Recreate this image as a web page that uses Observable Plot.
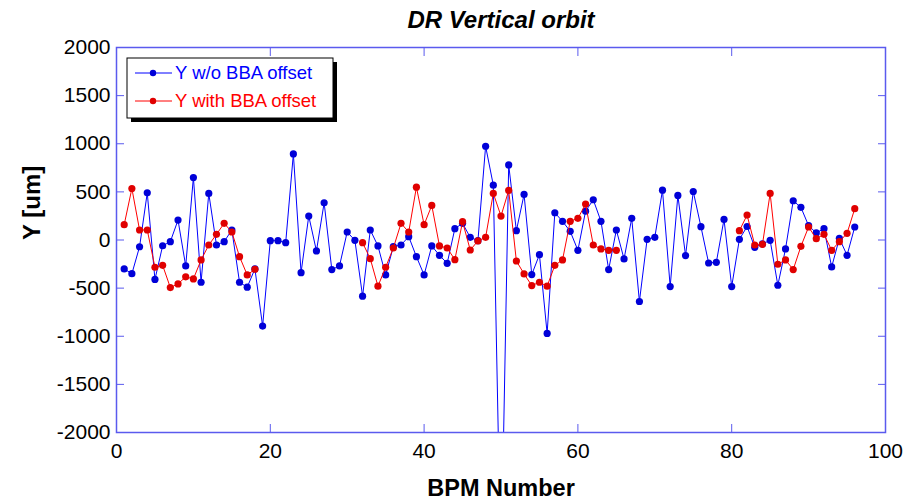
<!DOCTYPE html>
<html><head><meta charset="utf-8">
<script src="https://cdn.jsdelivr.net/npm/d3@7"></script>
<script src="https://cdn.jsdelivr.net/npm/@observablehq/plot@0.6"></script>
<style>
body{margin:0;background:#fff;font-family:"Liberation Sans",Arial,sans-serif}
#chart{position:relative;width:915px;height:500px}
</style>
</head><body><div id="chart"></div>
<script>
// ---- data ----
const bpm = d3.range(1, 97);
const yNoBBA = [
  -300,-350,-70,490,-410,-60,-17,207,-269,649,
  -439,484,-52,-17,104,-439,-490,-300,-894,-7,
  -7,-28,894,-339,249,-114,387,-307,-269,83,
  -3,-584,104,-62,-363,-69,-52,35,-173,-363,
  -62,-159,-242,118,173,28,-7,974,570,-3450,
  780,97,473,-359,-152,-971,283,194,90,-107,
  300,418,194,-307,104,-197,225,-639,7,28,
  518,-484,463,-162,504,138,-239,-232,214,-484,
  7,140,-76,-41,-3,-470,-93,408,339,149,
  73,118,-280,17,-159,135
];
const yWithBBA = [
  159,535,104,104,-283,-263,-494,-456,-383,-404,
  -207,-52,59,173,83,-173,-363,-304,null,null,
  null,null,null,null,null,null,null,null,null,null,
  null,-28,-194,-480,-283,-83,173,83,549,159,
  359,-62,-83,-204,190,-104,-10,28,484,249,
  515,-218,-352,-473,-439,-480,-263,-207,194,225,
  373,-52,-93,-107,-107,null,null,null,null,null,
  null,null,null,null,null,null,null,null,null,null,
  97,259,-52,-45,484,-252,-207,-307,-66,135,
  14,59,-107,-17,69,325
];
const xTicks = [0, 20, 40, 60, 80, 100];
const yTicks = [-2000, -1500, -1000, -500, 0, 500, 1000, 1500, 2000];
const seriesNames = ["Y w/o BBA offset", "Y with BBA offset"];
const titleText = "DR Vertical orbit";
const xLabel = "BPM Number";
const yLabel = "Y [um]";

// ---- styling ----
const axisColor = "#5a5aee";
const blue = "#0000ff", blueDot = "#0000d8";
const red = "#ff0000", redDot = "#e00000";
const font = '"Liberation Sans", Arial, sans-serif';
const plain = d => String(d);

const rows = bpm.map((b, i) => ({bpm: b, a: yNoBBA[i], b: yWithBBA[i]}));

const plot = Plot.plot({
  width: 915,
  height: 500,
  marginLeft: 116,
  marginRight: 30,
  marginTop: 47,
  marginBottom: 68,
  style: {fontFamily: font, background: "#fff", color: "#000"},
  x: {domain: [0, 100]},
  y: {domain: [-2000, 2000]},
  marks: [
    // data
    Plot.line(rows, {x: "bpm", y: "a", stroke: blue, strokeWidth: 1, clip: true}),
    Plot.dot(rows, {x: "bpm", y: "a", r: 3.6, fill: blueDot, stroke: "none", clip: true}),
    Plot.line(rows, {x: "bpm", y: "b", stroke: red, strokeWidth: 1, clip: true}),
    Plot.dot(rows.filter(d => d.b != null), {x: "bpm", y: "b", r: 3.6, fill: redDot, stroke: "none", clip: true}),
    // frame + inward ticks
    Plot.frame({stroke: axisColor, strokeWidth: 1.5}),
    Plot.axisX({anchor: "bottom", ticks: xTicks, tickSize: 8, dy: -8, tickFormat: () => "", stroke: axisColor, label: null}),
    Plot.axisX({anchor: "top", ticks: xTicks, tickSize: 8, dy: 8, tickFormat: () => "", stroke: axisColor, label: null}),
    Plot.axisY({anchor: "left", ticks: yTicks, tickSize: 8, dx: 8, tickFormat: () => "", stroke: axisColor, label: null}),
    Plot.axisY({anchor: "right", ticks: yTicks, tickSize: 8, dx: -8, tickFormat: () => "", stroke: axisColor, label: null}),
    // tick labels
    Plot.axisX({anchor: "bottom", ticks: xTicks, tickSize: 0, tickPadding: 11, fontSize: 21, tickFormat: plain, label: null}),
    Plot.axisY({anchor: "left", ticks: yTicks, tickSize: 0, tickPadding: 6, fontSize: 21, tickFormat: plain, label: null}),
    // title & axis labels
    Plot.text([titleText], {frameAnchor: "top", dy: -37, fontSize: 24, fontWeight: "bold", fontStyle: "italic", fill: "#000"}),
    Plot.text([xLabel], {frameAnchor: "bottom", dy: 63, fontSize: 23.5, fontWeight: "bold", fill: "#000"}),
    Plot.text([yLabel], {frameAnchor: "left", dx: -84, rotate: -90, fontSize: 24, fontWeight: "bold", fill: "#000"})
  ]
});

document.getElementById("chart").appendChild(plot);

// ---- legend box (inside the frame, upper left) ----
const svg = d3.select(plot);
const lg = svg.append("g").attr("font-family", font).attr("font-size", 18.5).attr("text-anchor", "start");
const bx = 127, by = 58, bw = 206, bh = 60;
lg.append("rect").attr("x", bx + 4).attr("y", by + 4).attr("width", bw).attr("height", bh).attr("fill", "#000");
lg.append("rect").attr("x", bx).attr("y", by).attr("width", bw).attr("height", bh).attr("fill", "#fff").attr("stroke", "#000").attr("stroke-width", 1);
const entries = [
  {name: seriesNames[0], line: blue, dot: blueDot, y: by + 15},
  {name: seriesNames[1], line: red, dot: redDot, y: by + 43}
];
entries.forEach(e => {
  lg.append("line").attr("x1", bx + 8).attr("x2", bx + 45).attr("y1", e.y).attr("y2", e.y).attr("stroke", e.line).attr("stroke-width", 1);
  lg.append("circle").attr("cx", bx + 26).attr("cy", e.y).attr("r", 3.2).attr("fill", e.dot);
  lg.append("text").attr("x", bx + 48).attr("y", e.y).attr("dy", "0.35em").attr("text-anchor", "start").attr("fill", e.line).text(e.name);
});
</script>
</body></html>
